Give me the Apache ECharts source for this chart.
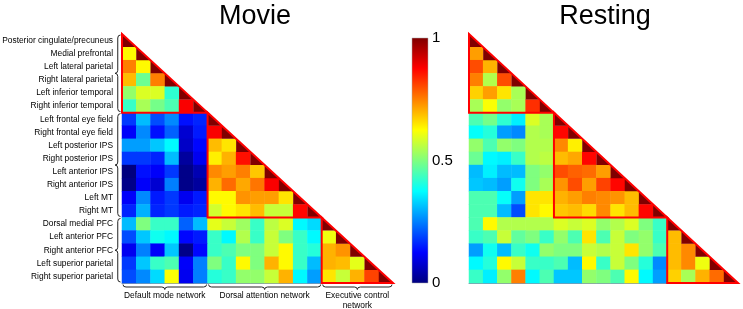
<!DOCTYPE html>
<html>
<head>
<meta charset="utf-8">
<script src="https://cdn.jsdelivr.net/npm/echarts@6/dist/echarts.min.js"></script>
<style>
  html, body { margin: 0; padding: 0; background: #fff; }
  #chart { width: 743px; height: 309px; }
</style>
</head>
<body>
<div id="chart"></div>
<script>
// region names (rows / columns of both matrices)
const regions = [
  "Posterior cingulate/precuneus", "Medial prefrontal", "Left lateral parietal",
  "Right lateral parietal", "Left inferior temporal", "Right inferior temporal",
  "Left frontal eye field", "Right frontal eye field", "Left posterior IPS",
  "Right posterior IPS", "Left anterior IPS", "Right anterior IPS",
  "Left MT", "Right MT", "Dorsal medial PFC", "Left anterior PFC",
  "Right anterior PFC", "Left superior parietal", "Right superior parietal",
];

// networks: first and last region index of each
const networkNames = ["Default mode network", "Dorsal attention network", "Executive control\nnetwork"];
const networkSpans = [[0, 5], [6, 13], [14, 18]];

// lower triangle, row r holds columns 0..r-1
const movieRows = [
  [],
  [0.63],
  [0.75, 0.63],
  [0.69, 0.48, 0.75],
  [0.52, 0.59, 0.59, 0.42],
  [0.43, 0.54, 0.49, 0.45, 0.88],
  [0.18, 0.31, 0.20, 0.26, 0.14, 0.16],
  [0.12, 0.26, 0.14, 0.22, 0.08, 0.15, 0.88],
  [0.28, 0.28, 0.32, 0.37, 0.07, 0.13, 0.69, 0.65],
  [0.18, 0.18, 0.16, 0.31, 0.03, 0.11, 0.64, 0.70, 0.86],
  [0.00, 0.14, 0.12, 0.18, 0.01, 0.05, 0.74, 0.72, 0.75, 0.68],
  [0.01, 0.12, 0.08, 0.25, 0.01, 0.03, 0.70, 0.77, 0.71, 0.76, 0.88],
  [0.12, 0.26, 0.15, 0.18, 0.11, 0.15, 0.63, 0.63, 0.73, 0.72, 0.72, 0.65],
  [0.16, 0.30, 0.16, 0.18, 0.15, 0.16, 0.58, 0.63, 0.65, 0.69, 0.57, 0.57, 0.87],
  [0.31, 0.50, 0.43, 0.43, 0.22, 0.31, 0.60, 0.57, 0.53, 0.43, 0.56, 0.59, 0.37, 0.34],
  [0.20, 0.32, 0.39, 0.37, 0.13, 0.15, 0.43, 0.37, 0.55, 0.43, 0.57, 0.50, 0.43, 0.37, 0.61],
  [0.11, 0.25, 0.12, 0.32, 0.01, 0.13, 0.43, 0.45, 0.50, 0.50, 0.57, 0.63, 0.43, 0.41, 0.70, 0.73],
  [0.18, 0.32, 0.43, 0.45, 0.12, 0.25, 0.50, 0.43, 0.63, 0.50, 0.70, 0.63, 0.43, 0.31, 0.70, 0.69, 0.60],
  [0.20, 0.26, 0.34, 0.62, 0.11, 0.25, 0.41, 0.43, 0.52, 0.52, 0.57, 0.70, 0.37, 0.28, 0.65, 0.57, 0.70, 0.81],
];

const restingRows = [
  [],
  [0.72],
  [0.80, 0.70],
  [0.75, 0.55, 0.80],
  [0.67, 0.72, 0.65, 0.54],
  [0.54, 0.62, 0.52, 0.54, 0.83],
  [0.45, 0.49, 0.42, 0.36, 0.59, 0.54],
  [0.38, 0.41, 0.28, 0.26, 0.55, 0.54, 0.87],
  [0.52, 0.45, 0.52, 0.50, 0.55, 0.55, 0.74, 0.64],
  [0.48, 0.37, 0.36, 0.43, 0.55, 0.56, 0.69, 0.71, 0.87],
  [0.31, 0.36, 0.31, 0.31, 0.50, 0.52, 0.80, 0.78, 0.77, 0.72],
  [0.32, 0.31, 0.28, 0.39, 0.50, 0.54, 0.73, 0.80, 0.72, 0.81, 0.87],
  [0.45, 0.45, 0.38, 0.28, 0.65, 0.65, 0.70, 0.72, 0.75, 0.74, 0.73, 0.69],
  [0.45, 0.45, 0.31, 0.20, 0.65, 0.63, 0.68, 0.69, 0.66, 0.74, 0.65, 0.69, 0.87],
  [0.45, 0.63, 0.55, 0.55, 0.55, 0.55, 0.59, 0.57, 0.59, 0.52, 0.55, 0.59, 0.50, 0.43],
  [0.43, 0.45, 0.57, 0.47, 0.50, 0.43, 0.52, 0.45, 0.65, 0.45, 0.57, 0.50, 0.52, 0.43, 0.69],
  [0.28, 0.39, 0.31, 0.43, 0.39, 0.52, 0.50, 0.50, 0.57, 0.55, 0.57, 0.65, 0.52, 0.45, 0.69, 0.74],
  [0.37, 0.41, 0.63, 0.57, 0.43, 0.43, 0.45, 0.31, 0.63, 0.43, 0.57, 0.50, 0.41, 0.26, 0.69, 0.74, 0.61],
  [0.43, 0.36, 0.52, 0.75, 0.37, 0.45, 0.32, 0.32, 0.52, 0.50, 0.45, 0.63, 0.37, 0.28, 0.67, 0.54, 0.70, 0.77],
];

// colour bar range and ticks
const barMin = 0;
const barMax = 1;
const barStep = 0.5;

// jet colormap
const jet = ["#00007f", "#0000ff", "#007fff", "#00ffff", "#7fff7f", "#ffff00", "#ff7f00", "#ff0000", "#7f0000"];
const font = "'Liberation Sans', Arial, sans-serif";
const labelSize = 8.4;

const toCells = (rows) => {
  const cells = [];
  rows.forEach((row, r) => row.forEach((v, c) => cells.push([c, r, v])));
  return cells;
};
const diagCells = regions.map((_, i) => [i, i, 1]);

// 对角线上的三角形
const renderDiag = (params, api) => {
  const c = api.coord([api.value(0), api.value(1)]);
  const s = api.size([1, 1]);
  const x0 = c[0] - s[0] / 2, x1 = c[0] + s[0] / 2;
  const y0 = c[1] - s[1] / 2, y1 = c[1] + s[1] / 2;
  return {
    type: "polygon",
    shape: { points: [[x0, y0], [x0, y1], [x1, y1]] },
    style: { fill: "#800000" },
  };
};

// 每个网络的红色三角框
const renderBlock = (params, api) => {
  const a = api.coord([api.value(0), api.value(0)]);
  const b = api.coord([api.value(1), api.value(1)]);
  const s = api.size([1, 1]);
  const left = a[0] - s[0] / 2, top = a[1] - s[1] / 2;
  const right = b[0] + s[0] / 2, bottom = b[1] + s[1] / 2;
  return {
    type: "polygon",
    shape: { points: [[left, top], [left, bottom], [right, bottom]] },
    style: { fill: "none", stroke: "#ff0000", lineWidth: 2 },
  };
};

// curly brace from p0 to p1, pointing along normal n
const brace = (p0, p1, n, d) => {
  const L = Math.hypot(p1[0] - p0[0], p1[1] - p0[1]);
  const u = [(p1[0] - p0[0]) / L, (p1[1] - p0[1]) / L];
  const q = Math.min(3, L / 4);
  const pm = [(p0[0] + p1[0]) / 2, (p0[1] + p1[1]) / 2];
  const at = (p, along, out) => [p[0] + u[0] * along + n[0] * out, p[1] + u[1] * along + n[1] * out];
  const st = { stroke: "#222", lineWidth: 1, fill: "none" };
  const curve = (s, e, cp) => ({
    type: "bezierCurve",
    shape: { x1: s[0], y1: s[1], x2: e[0], y2: e[1], cpx1: cp[0], cpy1: cp[1] },
    style: st,
  });
  const line = (s, e) => ({
    type: "line",
    shape: { x1: s[0], y1: s[1], x2: e[0], y2: e[1] },
    style: st,
  });
  const A = p0, B = at(p0, q, d / 2), C = at(pm, -q, d / 2), D = at(pm, 0, d);
  const E = at(pm, q, d / 2), F = at(p1, -q, d / 2), G = p1;
  return [
    curve(A, B, at(p0, 0, d / 2)),
    line(B, C),
    curve(C, D, at(pm, 0, d / 2)),
    curve(D, E, at(pm, 0, d / 2)),
    line(E, F),
    curve(F, G, at(p1, 0, d / 2)),
  ];
};

// 网络的括号和名称
const renderGroup = (params, api) => {
  const a = api.coord([api.value(0), api.value(0)]);
  const b = api.coord([api.value(1), api.value(1)]);
  const s = api.size([1, 1]);
  const gridLeft = api.coord([0, 0])[0] - s[0] / 2;
  const gridBottom = api.coord([0, regions.length - 1])[1] + s[1] / 2;
  const top = a[1] - s[1] / 2, bottom = b[1] + s[1] / 2;
  const left = a[0] - s[0] / 2, right = b[0] + s[0] / 2;
  const bx = gridLeft - 1.5;
  const by = gridBottom + 1.5;
  const children = [
    ...brace([bx, top + 1], [bx, bottom - 1], [-1, 0], 5.5),
    ...brace([left + 1, by], [right - 1, by], [0, 1], 5),
    {
      type: "text",
      style: {
        text: networkNames[params.dataIndex],
        x: (left + right) / 2,
        y: by + 6.5,
        align: "center",
        verticalAlign: "top",
        fontSize: labelSize,
        lineHeight: 9.5,
        fontFamily: font,
        fill: "#000",
      },
    },
  ];
  return { type: "group", children };
};

// 颜色条
const renderBar = (params, api) => {
  const lo = api.coord([0, api.value(1)]);
  const hi = api.coord([0, api.value(2)]);
  const w = api.size([1, 0])[0];
  const stops = jet.map((color, i) => ({ offset: i / (jet.length - 1), color }));
  return {
    type: "rect",
    shape: { x: lo[0] - w / 2, y: hi[1], width: w, height: lo[1] - hi[1] },
    style: {
      fill: new echarts.graphic.LinearGradient(0, 1, 0, 0, stops),
      stroke: "#aaa",
      lineWidth: 0.5,
    },
  };
};

const myChart = echarts.init(document.getElementById("chart"));
const idx = regions.map((_, i) => String(i));
const frame = { show: true, lineStyle: { color: "#8797ad", width: 1 } };

const matrixX = (gridIndex) => ({
  gridIndex,
  type: "category",
  data: idx,
  axisLine: frame,
  axisTick: { show: false },
  axisLabel: { show: false },
  splitLine: { show: false },
});
const matrixY = (gridIndex, showLabel) => ({
  gridIndex,
  type: "category",
  data: regions,
  inverse: true,
  axisLine: frame,
  axisTick: { show: false },
  axisLabel: { show: showLabel, fontSize: labelSize, color: "#000", margin: 9, fontFamily: font },
  splitLine: { show: false },
});

const option = {
  animation: false,
  graphic: [
    { type: "text", x: 255, y: 17, style: { text: "Movie", align: "center", verticalAlign: "middle", fontSize: 27, fontFamily: font, fill: "#000" } },
    { type: "text", x: 605, y: 17, style: { text: "Resting", align: "center", verticalAlign: "middle", fontSize: 27, fontFamily: font, fill: "#000" } },
  ],
  grid: [
    { left: 122, top: 34, width: 271, height: 249, outerBoundsMode: "none" },
    { left: 469, top: 34, width: 269, height: 249, outerBoundsMode: "none" },
    { left: 412, top: 38, width: 16, height: 245, outerBoundsMode: "none" },
  ],
  xAxis: [
    matrixX(0),
    matrixX(1),
    { gridIndex: 2, type: "category", data: ["bar"], show: false },
  ],
  yAxis: [
    matrixY(0, true),
    matrixY(1, false),
    {
      gridIndex: 2,
      type: "value",
      min: barMin,
      max: barMax,
      interval: barStep,
      position: "right",
      axisLine: { show: false },
      axisTick: { show: false },
      splitLine: { show: false },
      axisLabel: { fontSize: 15, color: "#000", margin: 4, fontFamily: font },
    },
  ],
  visualMap: {
    show: false,
    seriesIndex: [0, 1],
    dimension: 2,
    min: barMin,
    max: barMax,
    inRange: { color: jet },
  },
  series: [
    { type: "heatmap", xAxisIndex: 0, yAxisIndex: 0, data: toCells(movieRows) },
    { type: "heatmap", xAxisIndex: 1, yAxisIndex: 1, data: toCells(restingRows) },
    { type: "custom", xAxisIndex: 0, yAxisIndex: 0, renderItem: renderDiag, data: diagCells, z: 3 },
    { type: "custom", xAxisIndex: 1, yAxisIndex: 1, renderItem: renderDiag, data: diagCells, z: 3 },
    { type: "custom", xAxisIndex: 0, yAxisIndex: 0, renderItem: renderBlock, data: networkSpans, z: 4 },
    { type: "custom", xAxisIndex: 1, yAxisIndex: 1, renderItem: renderBlock, data: networkSpans, z: 4 },
    { type: "custom", xAxisIndex: 0, yAxisIndex: 0, renderItem: renderGroup, data: networkSpans, z: 4 },
    { type: "custom", xAxisIndex: 2, yAxisIndex: 2, renderItem: renderBar, data: [[0, barMin, barMax]] },
  ],
};

myChart.setOption(option);
</script>
</body>
</html>
